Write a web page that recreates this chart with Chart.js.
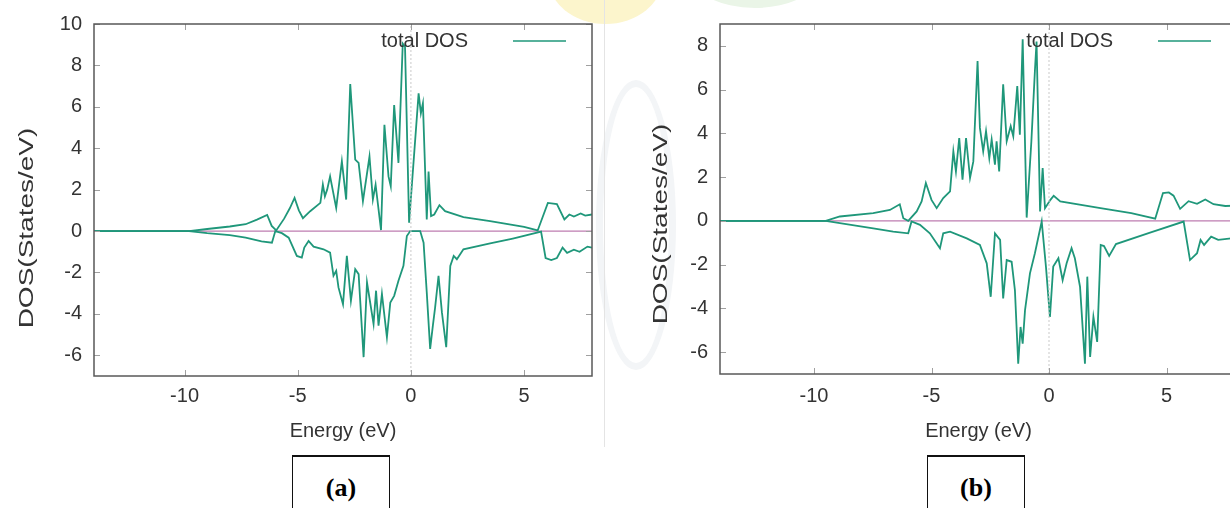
<!DOCTYPE html>
<html>
<head>
<meta charset="utf-8">
<script src="https://cdn.jsdelivr.net/npm/chart.js@4.4.1/dist/chart.umd.min.js"></script>
<style>
  html, body { margin: 0; padding: 0; background: #fff; width: 1230px; height: 508px; overflow: hidden; position: relative; }
  .wm { position: absolute; border-radius: 50%; }
  #panelA { position: absolute; left: 0; top: 0; }
  #panelB { position: absolute; left: 620px; top: 0; }
  .divider { position: absolute; left: 604px; top: 0; width: 1px; height: 447px; background: #e4e4e4; }
  .tag { position: absolute; top: 455px; width: 96px; height: 70px; border: 1.5px solid #111; border-top-width: 2.5px;
         font-family: 'Liberation Serif', 'Times New Roman', serif; font-weight: bold; font-size: 26px;
         text-align: center; line-height: 62px; color: #000; }
</style>
</head>
<body>
<!-- faint watermark behind the figure -->
<div class="wm" style="left:548px; top:-70px; width:115px; height:94px; background:#fcf5cc;"></div>
<div class="wm" style="left:690px; top:-62px; width:130px; height:70px; background:#eaf5e7;"></div>
<div class="wm" style="left:596px; top:80px; width:80px; height:290px; border:7px solid #f3f5f7; box-sizing:border-box;"></div>
<div class="divider"></div>
<canvas id="panelA" width="604" height="450"></canvas>
<canvas id="panelB" width="640" height="450"></canvas>
<div class="tag" style="left:292px;">(a)</div>
<div class="tag" style="left:927px;">(b)</div>
<script>
// ── Data ─────────────────────────────────────────────────────────────────────

const X_TICKS = [-10, -5, 0, 5]
const A_Y_TICKS = [-6, -4, -2, 0, 2, 4, 6, 8, 10]
const B_Y_TICKS = [-6, -4, -2, 0, 2, 4, 6, 8]

// (a) spin up / spin down
const aUpE = [-14, -9.8, -9, -8, -7.3, -6.8, -6.35, -6.15, -5.95, -5.6, -5.35, -5.14, -4.95, -4.77, -4.45, -4.0, -3.89, -3.8, -3.7, -3.57, -3.3, -3.05, -2.86, -2.68, -2.46, -2.31, -2.12, -1.83, -1.68, -1.56, -1.32, -1.17, -0.99, -0.89, -0.74, -0.55, -0.36, -0.26, -0.08, 0.34, 0.44, 0.53, 0.7, 0.78, 0.89, 1.03, 1.26, 1.51, 2.32, 3.5, 5.0, 5.6, 6.05, 6.45, 6.78, 7.0, 7.2, 7.5, 7.7, 8]
const aUpD = [0, 0, 0.1, 0.22, 0.33, 0.55, 0.78, 0.25, 0.03, 0.6, 1.1, 1.6, 1.0, 0.62, 0.96, 1.36, 2.24, 1.68, 2.0, 2.64, 1.12, 3.37, 1.52, 7.1, 3.45, 3.29, 1.44, 3.6, 1.52, 2.24, 0.05, 5.13, 2.64, 2.16, 6.09, 3.29, 9.05, 8.9, 0.4, 6.65, 5.69, 6.17, 0.56, 2.88, 0.72, 0.8, 1.25, 0.96, 0.67, 0.48, 0.2, 0.03, 1.36, 1.3, 0.56, 0.8, 0.7, 0.85, 0.75, 0.8]
const aDnE = [-14, -9.8, -9, -8, -7.3, -6.6, -6.14, -5.99, -5.7, -5.4, -5.04, -4.82, -4.71, -4.52, -4.3, -3.86, -3.57, -3.42, -3.3, -3.2, -3.0, -2.83, -2.65, -2.46, -2.31, -2.09, -1.94, -1.8, -1.65, -1.54, -1.43, -1.28, -1.06, -0.91, -0.74, -0.55, -0.33, -0.18, -0.03, 0.41, 0.56, 0.7, 0.85, 0.97, 1.07, 1.22, 1.37, 1.56, 1.74, 1.89, 2.03, 2.32, 3.5, 4.5, 5.75, 5.95, 6.2, 6.45, 6.7, 6.9, 7.2, 7.45, 7.8, 8]
const aDnD = [0, 0, -0.1, -0.2, -0.32, -0.5, -0.56, 0, -0.1, -0.32, -1.2, -1.28, -0.8, -0.48, -0.75, -0.88, -1.04, -2.16, -1.92, -2.72, -3.53, -1.2, -3.37, -1.84, -2.08, -6.09, -2.48, -3.45, -4.49, -2.88, -4.57, -3.04, -5.13, -3.45, -3.13, -2.4, -1.68, -0.24, 0, 0, -0.56, -2.96, -5.69, -4.57, -3.69, -2.16, -3.93, -5.61, -1.68, -1.2, -1.36, -0.88, -0.6, -0.36, -0.03, -1.3, -1.4, -1.3, -0.8, -1.05, -0.9, -1.0, -0.75, -0.8]

// (b) spin up / spin down
const bUpE = [-14, -9.5, -8.9, -7.48, -6.77, -6.35, -6.2, -5.99, -5.63, -5.42, -5.24, -5.0, -4.78, -4.5, -4.21, -4.07, -3.96, -3.82, -3.68, -3.53, -3.36, -3.22, -3.04, -2.94, -2.8, -2.68, -2.54, -2.44, -2.3, -2.23, -2.12, -1.95, -1.8, -1.63, -1.52, -1.35, -1.24, -1.12, -0.95, -0.75, -0.6, -0.53, -0.38, -0.27, -0.17, 0.06, 0.2, 0.48, 2.19, 3.5, 4.52, 4.85, 5.1, 5.3, 5.58, 5.94, 6.3, 6.65, 7.0, 7.5, 8]
const bUpD = [0, 0, 0.2, 0.35, 0.5, 0.76, 0.12, 0, 0.43, 0.89, 1.73, 0.96, 0.58, 1.04, 1.35, 3.18, 2.26, 3.79, 1.88, 3.79, 1.96, 2.72, 7.31, 4.25, 3.18, 4.1, 2.87, 3.72, 2.57, 3.64, 2.26, 6.24, 3.64, 4.33, 3.87, 6.16, 3.94, 8.3, 0.15, 3.64, 6.85, 8.2, 0.43, 2.42, 0.58, 0.96, 1.15, 0.89, 0.58, 0.35, 0.1, 1.27, 1.3, 1.15, 0.55, 0.9, 0.78, 0.98, 0.76, 0.68, 0.7]
const bDnE = [-14, -9.5, -8.9, -7.48, -6.63, -5.99, -5.85, -5.49, -5.07, -4.64, -4.5, -4.21, -3.5, -2.94, -2.65, -2.48, -2.3, -2.08, -1.95, -1.8, -1.59, -1.45, -1.31, -1.21, -1.12, -1.02, -0.81, -0.6, -0.31, -0.13, 0.04, 0.18, 0.4, 0.58, 0.75, 0.96, 1.1, 1.32, 1.53, 1.63, 1.75, 1.89, 2.05, 2.2, 2.34, 2.56, 2.85, 4.3, 5.73, 6.0, 6.3, 6.45, 6.6, 6.9, 7.2, 7.75, 8]
const bDnD = [0, 0, -0.1, -0.34, -0.49, -0.57, -0.03, -0.18, -0.57, -1.25, -0.57, -0.49, -0.8, -1.1, -1.94, -3.47, -0.57, -0.87, -3.55, -1.79, -1.87, -3.17, -6.53, -4.85, -5.61, -4.08, -2.4, -1.48, -0.03, -2.09, -4.39, -2.09, -1.71, -2.71, -1.94, -1.25, -1.71, -3.01, -6.53, -2.55, -6.22, -4.39, -5.53, -1.1, -1.15, -1.6, -1.06, -0.54, -0.03, -1.79, -1.48, -0.87, -1.1, -0.72, -0.87, -0.8, -0.8]

const ZERO_E = [-14, 8]
const ZERO_D = [0, 0]

// ── Style ────────────────────────────────────────────────────────────────────

const DOS_COLOR = '#1f977a'
const ZERO_COLOR = 'rgba(168,80,150,0.75)'
const FERMI_COLOR = '#c9c9c9'
const TEXT_COLOR = '#333'
const FONT = "'Liberation Sans', Arial, sans-serif"

function pts(xs, ys) {
	return xs.map((x, i) => ({ x, y: ys[i] }))
}

// gnuplot-like frame: box, inward ticks on all sides, legend, stretched y label
const framePlugin = {
	id: 'frame',
	afterDatasetsDraw(chart, args, opts) {
		const { ctx, chartArea: a, scales } = chart
		ctx.save()
		ctx.strokeStyle = '#a0a0a0'
		ctx.lineWidth = 1
		ctx.beginPath()
		for (const v of opts.xTicks) {
			const px = Math.round(scales.x.getPixelForValue(v)) + 0.5
			ctx.moveTo(px, a.bottom); ctx.lineTo(px, a.bottom - 6)
			ctx.moveTo(px, a.top); ctx.lineTo(px, a.top + 6)
		}
		for (const v of opts.yTicks) {
			const py = Math.round(scales.y.getPixelForValue(v)) + 0.5
			ctx.moveTo(a.left, py); ctx.lineTo(a.left + 6, py)
			ctx.moveTo(a.right, py); ctx.lineTo(a.right - 6, py)
		}
		ctx.stroke()
		ctx.strokeStyle = '#585858'
		ctx.lineWidth = 1.5
		ctx.strokeRect(a.left, a.top, a.right - a.left, a.bottom - a.top)

		const ly = a.top + 17
		ctx.font = `20px ${FONT}`
		ctx.fillStyle = TEXT_COLOR
		ctx.textAlign = 'right'
		ctx.textBaseline = 'middle'
		ctx.fillText(opts.label, a.right - 124, ly)
		ctx.strokeStyle = DOS_COLOR
		ctx.lineWidth = 1.6
		ctx.beginPath()
		ctx.moveTo(a.right - 79, ly)
		ctx.lineTo(a.right - 26, ly)
		ctx.stroke()

		// y label, drawn longer along its run like the original
		ctx.translate(opts.yTitleX, opts.yTitleY)
		ctx.rotate(-Math.PI / 2)
		ctx.scale(1.4, 1)
		ctx.textAlign = 'center'
		ctx.fillText(opts.yTitle, 0, 0)
		ctx.restore()
	},
}

function makePanel(id, p) {
	const line = (data, color, width, extra) => Object.assign({
		data, borderColor: color, borderWidth: width, pointRadius: 0, tension: 0, fill: false, showLine: true,
	}, extra || {})
	return new Chart(document.getElementById(id), {
		type: 'scatter',
		data: {
			datasets: [
				line(pts([0, 0], [p.yMin, p.yMax]), FERMI_COLOR, 1, { borderDash: [2, 2] }),
				line(pts(p.upE, p.upD), DOS_COLOR, 1.8),
				line(pts(p.dnE, p.dnD), DOS_COLOR, 1.8),
				line(pts(ZERO_E, ZERO_D), ZERO_COLOR, 1.2),
			],
		},
		options: {
			responsive: false,
			animation: false,
			layout: { padding: { left: 0, top: p.top, right: p.right, bottom: 0 } },
			scales: {
				x: {
					type: 'linear', min: -14, max: 8,
					afterBuildTicks: s => { s.ticks = X_TICKS.map(v => ({ value: v })) },
					afterFit: s => { s.height = p.xHeight },
					grid: { display: false, drawTicks: false },
					border: { display: false },
					ticks: { color: TEXT_COLOR, font: { family: FONT, size: 20 }, padding: p.xPad },
					title: { display: true, text: 'Energy (eV)', color: TEXT_COLOR, font: { family: FONT, size: 20 }, padding: { top: 0, bottom: 7 } },
				},
				y: {
					type: 'linear', min: p.yMin, max: p.yMax,
					afterBuildTicks: s => { s.ticks = p.yTicks.map(v => ({ value: v })) },
					afterFit: s => { s.width = p.yWidth },
					grid: { display: false, drawTicks: false },
					border: { display: false },
					ticks: { color: TEXT_COLOR, font: { family: FONT, size: 20 }, padding: 12 },
					title: { display: false },
				},
			},
			plugins: {
				legend: { display: false },
				tooltip: { enabled: false },
				frame: {
					xTicks: X_TICKS, yTicks: p.yTicks, label: 'total DOS',
					yTitle: 'DOS(States/eV)', yTitleX: p.yTitleX, yTitleY: p.yTitleY,
				},
			},
		},
		plugins: [framePlugin],
	})
}

makePanel('panelA', {
	upE: aUpE, upD: aUpD, dnE: aDnE, dnD: aDnD,
	yMin: -7, yMax: 10, yTicks: A_Y_TICKS,
	top: 22, right: 12, yWidth: 94, xHeight: 74, xPad: 8, yTitleX: 27, yTitleY: 228,
})

makePanel('panelB', {
	upE: bUpE, upD: bUpD, dnE: bDnE, dnD: bDnD,
	yMin: -7, yMax: 9, yTicks: B_Y_TICKS,
	top: 24, right: 23, yWidth: 100, xHeight: 76, xPad: 10, yTitleX: 41, yTitleY: 224,
})
</script>
</body>
</html>
